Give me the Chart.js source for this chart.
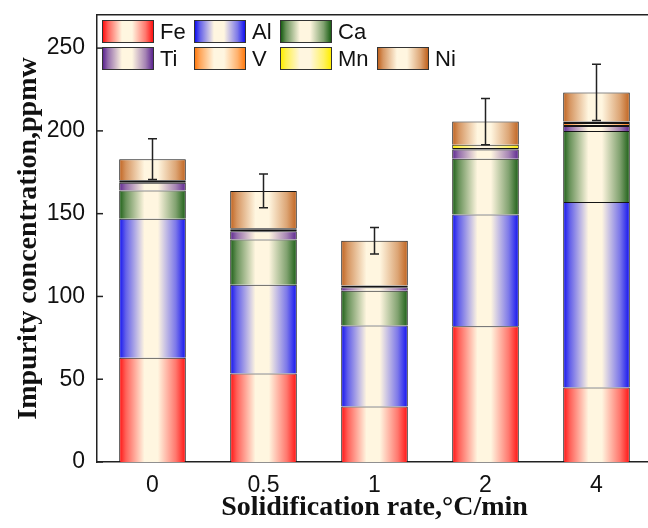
<!DOCTYPE html>
<html>
<head>
<meta charset="utf-8">
<script src="https://cdn.jsdelivr.net/npm/chart.js@4.4.1/dist/chart.umd.min.js"></script>
<style>
  html, body { margin: 0; padding: 0; background: #fff; overflow: hidden; }
  #wrap { position: relative; width: 652px; height: 528px; }
  #legend {
    position: absolute; left: 102px; top: 20px;
    display: grid; grid-template-columns: 92px 86px 97px auto; row-gap: 4px;
    font: 22px Arial, "Liberation Sans", sans-serif; color: #111;
  }
  .item { display: flex; align-items: center; height: 23px; }
  .box { width: 50px; height: 21px; border: 1px solid #333; margin-right: 6px; }
</style>
</head>
<body>
<div id="wrap">
  <canvas id="chart"></canvas>
  <div id="legend"></div>
</div>
<script>
const categories = ["0", "0.5", "1", "2", "4"];

const fe = [63, 53.5, 33.5, 82, 45];
const al = [84, 53.5, 49, 67.5, 112];
const ca = [17, 27.4, 21, 33.7, 43];
const ti = [4.7, 5, 2, 5.5, 3];
const v  = [1.2, 1.2, 0.8, 0.4, 1.8];
const mn = [0.5, 0.6, 0.3, 2.6, 0.8];
const ni = [12.5, 22.5, 27, 13.9, 17.6];
const errors = [12.3, 10.2, 8, 14, 17];

const seriesNames = ["Fe", "Al", "Ca", "Ti", "V", "Mn", "Ni"];
const seriesData = [fe, al, ca, ti, v, mn, ni];
const seriesColors = ["#ff1010", "#1010f0", "#1a5e14", "#5c2590", "#ff7a10", "#ffee00", "#c0621e"];
const cream = "#fff6e0";

// farbe mischen
function mix(hex, t) {
  const a = parseInt(hex.slice(1), 16), b = parseInt(cream.slice(1), 16);
  const r = Math.round(((a >> 16) & 255) * (1 - t) + ((b >> 16) & 255) * t);
  const g = Math.round(((a >> 8) & 255) * (1 - t) + ((b >> 8) & 255) * t);
  const bl = Math.round((a & 255) * (1 - t) + (b & 255) * t);
  return `rgb(${r},${g},${bl})`;
}

function stops(color) {
  return [[0, color], [0.1, mix(color, 0.35)], [0.38, cream], [0.58, cream], [0.85, mix(color, 0.45)], [1, color]];
}

function barFill(ctx, color) {
  const chart = ctx.chart;
  const xs = chart.scales && chart.scales.x;
  if (!xs || ctx.dataIndex === undefined || !xs.width) return color;
  const cx = xs.getPixelForValue(ctx.dataIndex);
  const w = xs.width / categories.length * 0.6;
  const g = chart.ctx.createLinearGradient(cx - w / 2, 0, cx + w / 2, 0);
  stops(color).forEach(s => g.addColorStop(s[0], s[1]));
  return g;
}

// legende als html
const legendEl = document.getElementById("legend");
seriesNames.forEach((name, i) => {
  const item = document.createElement("div");
  item.className = "item";
  item.style.gridRow = i < 3 ? 1 : 2;
  item.style.gridColumn = i < 3 ? i + 1 : i - 2;
  const css = stops(seriesColors[i]).map(s => `${s[1]} ${s[0] * 100}%`).join(", ");
  item.innerHTML = `<span class="box" style="background: linear-gradient(to right, ${css})"></span><span>${name}</span>`;
  legendEl.appendChild(item);
});

// fehlerbalken
const errorBars = {
  id: "errorBars",
  afterDatasetsDraw(chart) {
    const { ctx, scales: { x, y } } = chart;
    ctx.save();
    ctx.strokeStyle = "#222";
    ctx.lineWidth = 1.5;
    categories.forEach((c, i) => {
      const total = seriesData.reduce((s, arr) => s + arr[i], 0);
      const px = x.getPixelForValue(i);
      const top = y.getPixelForValue(total + errors[i]);
      const bot = y.getPixelForValue(total - errors[i]);
      ctx.beginPath();
      ctx.moveTo(px, top); ctx.lineTo(px, bot);
      ctx.moveTo(px - 4.5, top); ctx.lineTo(px + 4.5, top);
      ctx.moveTo(px - 4.5, bot); ctx.lineTo(px + 4.5, bot);
      ctx.stroke();
    });
    ctx.restore();
  }
};

// ticks nach innen
const innerTicks = {
  id: "innerTicks",
  afterDraw(chart) {
    const { ctx, chartArea, scales: { y } } = chart;
    ctx.save();
    ctx.strokeStyle = "#222";
    ctx.lineWidth = 1.5;
    y.ticks.forEach(t => {
      const py = y.getPixelForValue(t.value);
      ctx.beginPath();
      ctx.moveTo(chartArea.left, py);
      ctx.lineTo(chartArea.left + 6, py);
      ctx.stroke();
    });
    ctx.restore();
  }
};

const datasets = seriesNames.map((name, i) => ({
  label: name,
  data: seriesData[i],
  backgroundColor: c => barFill(c, seriesColors[i]),
  borderColor: "#151515",
  borderWidth: 1,
  borderSkipped: (name === "V" || name === "Mn") ? false : "start",
  categoryPercentage: 1,
  barPercentage: 0.6
}));

const tickFont = { family: "Arial, 'Liberation Sans', sans-serif", size: 23 };
const titleFont = { family: "'Liberation Serif', 'Times New Roman', serif", size: 28, weight: "bold" };

new Chart(document.getElementById("chart"), {
  type: "bar",
  data: { labels: categories, datasets },
  options: {
    responsive: true,
    maintainAspectRatio: false,
    devicePixelRatio: 1,
    animation: false,
    events: [],
    layout: { padding: { left: 0, top: 15, right: 0, bottom: 0 } },
    plugins: { legend: { display: false }, tooltip: { enabled: false } },
    scales: {
      x: {
        stacked: true,
        grid: { display: false, drawTicks: false },
        border: { display: true, color: "#222", width: 1.5 },
        ticks: { color: "#111", font: tickFont, padding: 10 },
        title: { display: true, text: "Solidification rate,°C/min", color: "#111", font: titleFont, padding: { top: 0, bottom: 3 } },
        afterFit: s => { s.height = 66; s.paddingLeft = 0; s.paddingRight = 0; }
      },
      xTop: {
        type: "category",
        position: "top",
        grid: { display: false, drawTicks: false },
        ticks: { display: false },
        border: { display: true, color: "#222", width: 1.5 },
        afterFit: s => { s.height = 0; s.paddingLeft = 0; s.paddingRight = 0; }
      },
      y: {
        stacked: true,
        min: 0,
        max: 270,
        grid: { display: false, drawTicks: false },
        border: { display: true, color: "#222", width: 1.5 },
        ticks: { stepSize: 50, includeBounds: false, color: "#111", font: tickFont, padding: 12 },
        title: { display: true, text: "Impurity concentration,ppmw", color: "#111", font: titleFont, padding: { top: 12, bottom: 0 } },
        afterFit: s => { s.width = 97; s.paddingTop = 0; s.paddingBottom = 0; }
      }
    }
  },
  plugins: [errorBars, innerTicks]
});
</script>
</body>
</html>
